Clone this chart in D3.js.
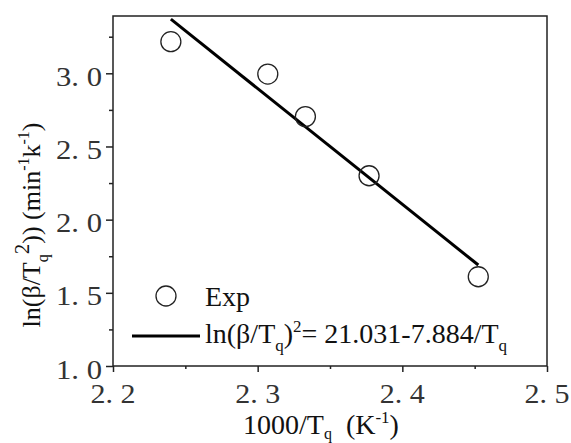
<!DOCTYPE html>
<html>
<head>
<meta charset="utf-8">
<script src="https://cdn.jsdelivr.net/npm/d3@7"></script>
<style>
  body { margin: 0; background: #fff; }
  svg text { font-family: "Liberation Serif", "DejaVu Serif", serif; fill: #111; }
</style>
</head>
<body>
<div id="box"></div>
<script>
// measured points
var expX = [2.240, 2.307, 2.333, 2.377, 2.4525];
var expY = [3.216, 2.995, 2.704, 2.300, 1.610];
// fitted line end points
var fitX = [2.240, 2.4525];
var fitY = [3.37, 1.69];

var xTicks = [2.2, 2.3, 2.4, 2.5];
var xMinor = [2.25, 2.35, 2.45];
var yTicks = [1.0, 1.5, 2.0, 2.5, 3.0];
var yMinor = [1.25, 1.75, 2.25, 2.75, 3.25];

var W = 571, H = 443;
var padL = 113, padR = 547, padT = 16, padB = 366;
var serif = "'Liberation Serif', 'DejaVu Serif', serif";

var svg = d3.select("#box").append("svg")
    .attr("width", W)
    .attr("height", H)
    .attr("font-family", serif);

var x = d3.scaleLinear().domain([2.2, 2.5]).range([padL, padR]);
var y = d3.scaleLinear().domain([1.0, 3.0]).range([padB, 73.3]);

//Frame
svg.append("rect")
   .attr("x", padL).attr("y", padT)
   .attr("width", padR - padL).attr("height", padB - padT)
   .style("fill", "none")
   .style("stroke", "#222")
   .style("stroke-width", 1.5);

//Axes, ticks outward
svg.append("g").attr("transform", "translate(0," + padB + ")")
    .call(d3.axisBottom(x).tickValues(xTicks).tickSize(6).tickFormat(""));
svg.append("g").attr("transform", "translate(0," + padB + ")")
    .call(d3.axisBottom(x).tickValues(xMinor).tickSize(3).tickFormat(""));
svg.append("g").attr("transform", "translate(" + padL + ",0)")
    .call(d3.axisLeft(y).tickValues(yTicks).tickSize(7).tickFormat(""));
svg.append("g").attr("transform", "translate(" + padL + ",0)")
    .call(d3.axisLeft(y).tickValues(yMinor).tickSize(4).tickFormat(""));
svg.selectAll(".domain").remove();
svg.selectAll(".tick line").style("stroke", "#222").style("stroke-width", 1.5);

//Tick labels (wide spaced digits)
svg.selectAll(".xlab").data(xTicks).enter().append("text")
   .attr("x", function(d){ return x(d); })
   .attr("y", 403)
   .attr("text-anchor", "middle")
   .attr("textLength", 45)
   .attr("lengthAdjust", "spacingAndGlyphs")
   .style("font-family", serif)
   .style("font-size", "27px")
   .style("fill", "#333")
   .text(function(d){ return d.toFixed(1).replace(".", ". "); });

svg.selectAll(".ylab").data(yTicks).enter().append("text")
   .attr("x", 102)
   .attr("y", function(d){ return y(d) + 12.5; })
   .attr("text-anchor", "end")
   .attr("textLength", 46)
   .attr("lengthAdjust", "spacingAndGlyphs")
   .style("font-family", serif)
   .style("font-size", "27px")
   .style("fill", "#333")
   .text(function(d){ return d.toFixed(1).replace(".", ". "); });

//Axis titles
var xt = svg.append("text")
   .attr("x", 243).attr("y", 434)
   .style("font-family", serif)
   .style("font-size", "28px");
xt.append("tspan").text("1000/T");
xt.append("tspan").attr("dy", 5).style("font-size", "16px").text("q");
xt.append("tspan").attr("dy", -5).text("\u2002(K");
xt.append("tspan").attr("dy", -11).style("font-size", "17px").text("-1");
xt.append("tspan").attr("dy", 11).text(")");

var yt = svg.append("text")
   .attr("transform", "translate(40,225) rotate(-90)")
   .attr("text-anchor", "middle")
   .style("font-family", serif)
   .style("font-size", "26px");
yt.append("tspan").text("ln(\u03b2/T");
yt.append("tspan").attr("dy", 8).style("font-size", "16px").text("q");
yt.append("tspan").attr("dy", -19).style("font-size", "21px").text("2");
yt.append("tspan").attr("dy", 11).text(")) (min");
yt.append("tspan").attr("dy", -11).style("font-size", "16px").text("-1");
yt.append("tspan").attr("dy", 11).text("k");
yt.append("tspan").attr("dy", -11).style("font-size", "16px").text("-1");
yt.append("tspan").attr("dy", 11).text(")");

//Fit line
var fit = fitX.map(function(d, i){ return [d, fitY[i]]; });
svg.append("path")
   .datum(fit)
   .attr("d", d3.line().x(function(d){ return x(d[0]); }).y(function(d){ return y(d[1]); }))
   .style("fill", "none")
   .style("stroke", "#000")
   .style("stroke-width", 3);

//Points
svg.selectAll(".pt").data(expX).enter().append("circle")
   .attr("cx", function(d){ return x(d); })
   .attr("cy", function(d, i){ return y(expY[i]); })
   .attr("r", 10)
   .style("fill", "none")
   .style("stroke", "#222")
   .style("stroke-width", 1.3);

//Legend
svg.append("circle")
   .attr("cx", 166).attr("cy", 296).attr("r", 10)
   .style("fill", "none").style("stroke", "#222").style("stroke-width", 1.3);
svg.append("text").attr("x", 205).attr("y", 306)
   .style("font-family", serif)
   .style("font-size", "28px").text("Exp");
svg.append("line")
   .attr("x1", 132).attr("x2", 200).attr("y1", 336).attr("y2", 336)
   .style("stroke", "#000").style("stroke-width", 3);
var lt = svg.append("text").attr("x", 205).attr("y", 343)
   .style("font-family", serif)
   .style("font-size", "28px");
lt.append("tspan").text("ln(\u03b2/T");
lt.append("tspan").attr("dy", 8).style("font-size", "17px").text("q");
lt.append("tspan").attr("dy", -8).text(")");
lt.append("tspan").attr("dy", -11).style("font-size", "17px").text("2");
lt.append("tspan").attr("dy", 11).text("= 21.031-7.884/T");
lt.append("tspan").attr("dy", 8).style("font-size", "17px").text("q");
</script>
</body>
</html>
